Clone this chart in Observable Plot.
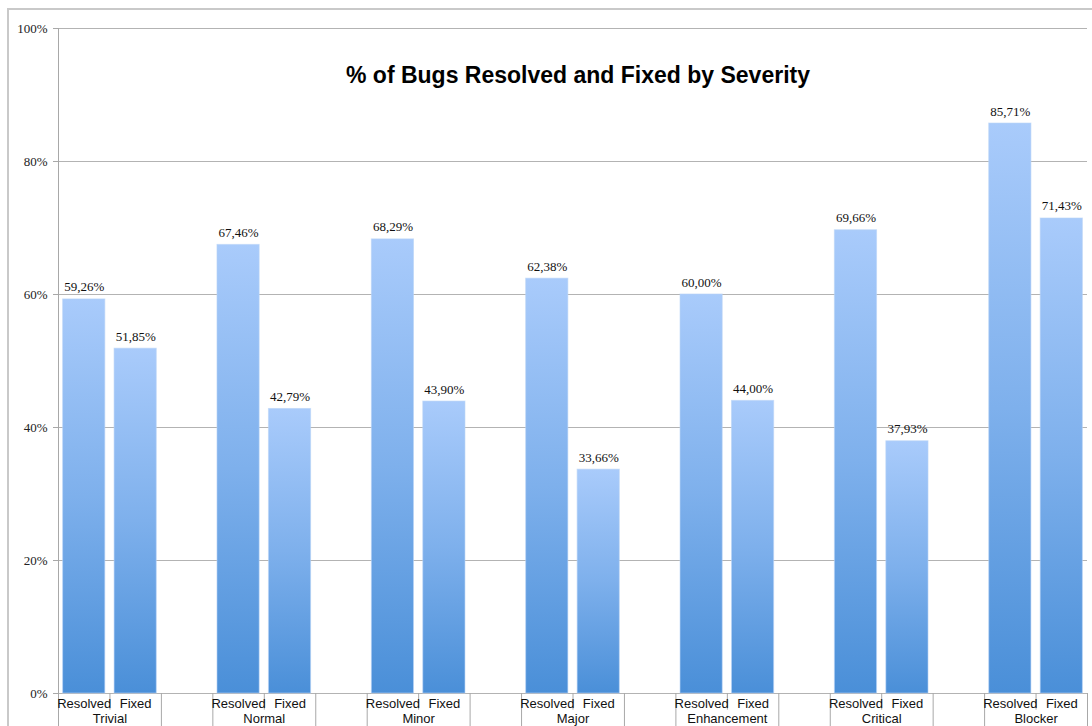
<!DOCTYPE html>
<html>
<head>
<meta charset="utf-8">
<script src="https://cdn.jsdelivr.net/npm/d3@7"></script>
<script src="https://cdn.jsdelivr.net/npm/@observablehq/plot@0.6"></script>
<style>
  html, body { margin: 0; padding: 0; background: #fff; overflow: hidden; }
  #wrap { position: relative; width: 1092px; height: 726px; }
  #border { position: absolute; left: 7px; top: 8px; width: 1200px; height: 800px;
            border: 2px solid #c9c9c9; box-sizing: border-box; pointer-events: none; }
  #chart { position: absolute; left: 0; top: 0; }
</style>
</head>
<body>
<div id="wrap">
  <div id="border"></div>
  <div id="chart"></div>
</div>
<script>
// Share of bugs resolved and fixed, per severity level
const severities = ["Trivial", "Normal", "Minor", "Major", "Enhancement", "Critical", "Blocker"];
const statuses = ["Resolved", "Fixed"];
const resolvedPct = [59.26, 67.46, 68.29, 62.38, 60.00, 69.66, 85.71];
const fixedPct = [51.85, 42.79, 43.90, 33.66, 44.00, 37.93, 71.43];
const yTicks = [0, 20, 40, 60, 80, 100];
const title = "% of Bugs Resolved and Fixed by Severity";

// Band domain: Resolved, Fixed and an empty spacer band between severities
const domain = [];
const bars = [];
severities.forEach((sev, i) => {
  statuses.forEach((st, j) => {
    const key = `${sev}|${st}`;
    domain.push(key);
    bars.push({key, severity: sev, status: st, value: j === 0 ? resolvedPct[i] : fixedPct[i]});
  });
  if (i < severities.length - 1) domain.push(`gap${i}`);
});

const width = 1092, height = 726;
const margin = {top: 28, right: 5, bottom: 33, left: 58};
const step = (width - margin.left - margin.right) / domain.length;

// Separator lines of the two-level category axis: one at each band's left edge,
// short between Resolved and Fixed, full height between severities
const leftEdges = domain.map((key, i) => ({key, first: i === 0, short: key.endsWith("|Fixed")}));
const lastKey = domain[domain.length - 1];

const pct = v => v.toFixed(2).replace(".", ",") + "%";
const serif = "'Liberation Serif', 'Times New Roman', serif";
const sans = "'Liberation Sans', Arial, sans-serif";

const chart = Plot.plot({
  width, height,
  marginTop: margin.top, marginRight: margin.right,
  marginBottom: margin.bottom, marginLeft: margin.left,
  style: {background: "transparent", overflow: "visible"},
  x: {type: "band", domain, paddingInner: 0.18, paddingOuter: 0.09, round: false, axis: null},
  y: {domain: [0, 100], axis: null},
  marks: [
    Plot.ruleY(yTicks, {stroke: "#b3b3b3", strokeWidth: 1}),
    Plot.axisY({ticks: yTicks, tickFormat: d => `${d}%`, tickSize: 5, tickPadding: 6, label: null,
                stroke: "#a8a8a8", fill: "#222", fontFamily: serif, fontSize: 13}),
    Plot.barY(bars, {x: "key", y: "value", fill: "url(#barGrad)",
                     stroke: "#b9d3f7", strokeOpacity: 0.6, strokeWidth: 1}),
    Plot.text(bars, {x: "key", y: "value", text: d => pct(d.value), lineAnchor: "bottom",
                     dy: -8, fontFamily: serif, fontSize: 13, fill: "#111"}),
    Plot.ruleX(leftEdges, {x: "key", dx: -step / 2,
                           y1: d => d.first ? 100 : 0,
                           y2: d => d.short ? -2.5 : -6,
                           stroke: "#a8a8a8", strokeWidth: 1}),
    Plot.ruleX([lastKey], {x: d => d, dx: step / 2, y1: 0, y2: -6,
                           stroke: "#a8a8a8", strokeWidth: 1}),
    Plot.text(bars, {x: "key", text: "status", frameAnchor: "bottom", lineAnchor: "middle",
                     dy: 10, fontFamily: sans, fontSize: 13, fill: "#111"}),
    Plot.text(severities, {x: d => `${d}|Resolved`, text: d => d, frameAnchor: "bottom",
                           lineAnchor: "middle", dx: step / 2, dy: 25,
                           fontFamily: sans, fontSize: 13, fill: "#111"}),
    Plot.text([title], {frameAnchor: "top", lineAnchor: "bottom", dy: 54, dx: 5,
                        fontFamily: sans, fontWeight: "bold", fontSize: 23, fill: "#000"})
  ]
});

// Vertical gradient shared by every bar (light at the top, deeper blue at the base)
const svg = d3.select(chart);
const grad = svg.insert("defs", ":first-child").append("linearGradient")
  .attr("id", "barGrad").attr("x1", 0).attr("y1", 0).attr("x2", 0).attr("y2", 1);
grad.append("stop").attr("offset", "0%").attr("stop-color", "#a9cbfb");
grad.append("stop").attr("offset", "50%").attr("stop-color", "#7eb0ec");
grad.append("stop").attr("offset", "100%").attr("stop-color", "#4a8fd8");

document.getElementById("chart").appendChild(chart);
</script>
</body>
</html>
